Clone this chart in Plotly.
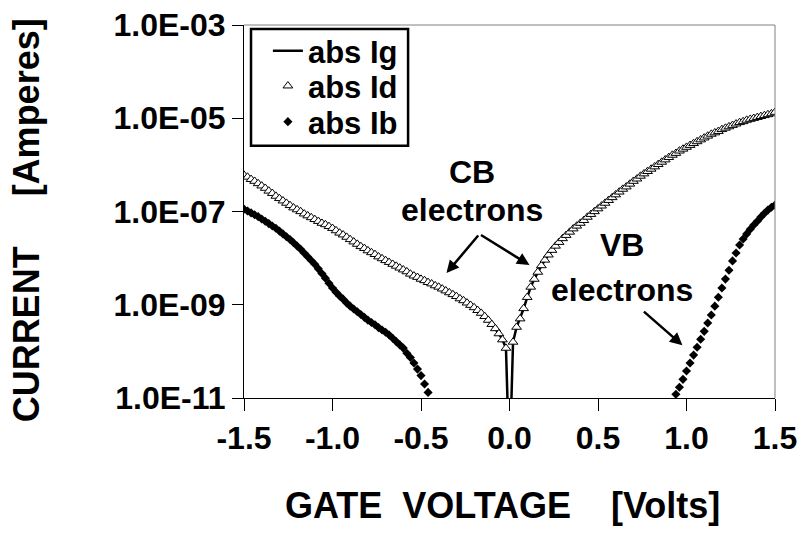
import numpy as np
import plotly.graph_objects as go

# Gate-voltage sweep: -1.5 V to +1.5 V in 20 mV steps
gate_voltage = np.round(np.linspace(-1.5, 1.5, 151), 2)

# |Id| in decades (log10 A), negative branch -1.50 .. -0.02 V
log_id_neg = [
    -6.22, -6.26, -6.31, -6.35, -6.40,
    -6.45, -6.50, -6.56, -6.61, -6.67,
    -6.72, -6.77, -6.82, -6.87, -6.92,
    -6.96, -7.00, -7.05, -7.09, -7.13,
    -7.17, -7.21, -7.25, -7.28, -7.32,
    -7.36, -7.41, -7.46, -7.50, -7.55,
    -7.60, -7.65, -7.70, -7.75, -7.79,
    -7.84, -7.88, -7.92, -7.97, -8.01,
    -8.05, -8.09, -8.13, -8.17, -8.21,
    -8.25, -8.29, -8.34, -8.38, -8.41,
    -8.45, -8.48, -8.52, -8.55, -8.59,
    -8.62, -8.66, -8.70, -8.74, -8.78,
    -8.82, -8.87, -8.91, -8.96, -9.01,
    -9.06, -9.12, -9.18, -9.25, -9.33,
    -9.42, -9.51, -9.62, -9.75, -9.93,
]
# |Id| in decades, positive branch +0.02 .. +1.50 V
log_id_pos = [
    -9.80, -9.48, -9.30, -9.08, -8.84,
    -8.62, -8.45, -8.30, -8.16, -8.04,
    -7.93, -7.83, -7.74, -7.66, -7.58,
    -7.51, -7.44, -7.37, -7.31, -7.25,
    -7.19, -7.12, -7.06, -7.00, -6.94,
    -6.88, -6.82, -6.76, -6.70, -6.64,
    -6.58, -6.52, -6.47, -6.41, -6.35,
    -6.30, -6.24, -6.19, -6.14, -6.09,
    -6.04, -5.99, -5.94, -5.89, -5.84,
    -5.79, -5.75, -5.70, -5.66, -5.62,
    -5.58, -5.54, -5.50, -5.46, -5.42,
    -5.38, -5.34, -5.31, -5.28, -5.24,
    -5.21, -5.18, -5.15, -5.12, -5.09,
    -5.07, -5.04, -5.02, -5.00, -4.98,
    -4.96, -4.94, -4.92, -4.90, -4.87,
]
# Gate current at exactly 0 V (drops far below the axis floor)
log_ig_at_zero = -12.5

# |Ib| in decades: negative branch -1.50 .. -0.46 V, positive branch +0.94 .. +1.50 V
log_ib_neg = [
    -6.95, -6.99, -7.03, -7.07, -7.11,
    -7.16, -7.21, -7.26, -7.31, -7.36,
    -7.42, -7.48, -7.54, -7.60, -7.67,
    -7.74, -7.81, -7.89, -7.97, -8.05,
    -8.13, -8.23, -8.33, -8.43, -8.54,
    -8.64, -8.73, -8.81, -8.88, -8.96,
    -9.03, -9.09, -9.15, -9.21, -9.27,
    -9.33, -9.38, -9.43, -9.49, -9.54,
    -9.59, -9.65, -9.72, -9.79, -9.86,
    -9.93, -10.04, -10.13, -10.25, -10.38,
    -10.52, -10.70, -10.88,
]
log_ib_pos = [
    -10.92, -10.77, -10.60, -10.42, -10.25,
    -10.08, -9.91, -9.74, -9.57, -9.39,
    -9.22, -9.03, -8.84, -8.64, -8.45,
    -8.26, -8.06, -7.89, -7.72, -7.59,
    -7.48, -7.38, -7.29, -7.21, -7.12,
    -7.04, -6.97, -6.91, -6.86,
]

x_tick_vals = [-1.5, -1.0, -0.5, 0.0, 0.5, 1.0, 1.5]
x_tick_text = ["-1.5", "-1.0", "-0.5", "0.0", "0.5", "1.0", "1.5"]
y_tick_vals = [1e-11, 1e-9, 1e-7, 1e-5, 1e-3]
y_tick_text = ["1.0E-11", "1.0E-09", "1.0E-07", "1.0E-05", "1.0E-03"]

nan = float("nan")
abs_ig = 10 ** np.array(log_id_neg + [log_ig_at_zero] + log_id_pos)
abs_id = 10 ** np.array(log_id_neg + [nan] + log_id_pos)
n_gap = len(gate_voltage) - len(log_ib_neg) - len(log_ib_pos)
abs_ib = 10 ** np.array(log_ib_neg + [nan] * n_gap + log_ib_pos)

FONT = "Liberation Sans, Arial, Helvetica, sans-serif"

fig = go.Figure()
fig.add_trace(go.Scatter(
    x=gate_voltage, y=abs_ig, name="abs Ig", mode="lines",
    line=dict(color="black", width=2.5), legend="legend",
))
fig.add_trace(go.Scatter(
    x=gate_voltage, y=abs_id, name="abs Id", mode="markers",
    marker=dict(symbol="triangle-up", size=8.5, color="white",
                line=dict(color="black", width=1)),
    legend="legend2",
))
fig.add_trace(go.Scatter(
    x=gate_voltage, y=abs_ib, name="abs Ib", mode="markers",
    marker=dict(symbol="diamond", size=7, color="black",
                line=dict(color="black", width=0)),
    legend="legend3",
))

legend_common = dict(
    x=0.045, xanchor="left", yanchor="middle",
    bgcolor="rgba(0,0,0,0)", borderwidth=0,
    font=dict(family=FONT, size=31, color="black", weight="bold"),
)
tick_font = dict(family=FONT, size=32, color="black", weight="bold")
title_font = dict(family=FONT, size=36, color="black", weight="bold")
label_font = dict(family=FONT, size=32, color="black", weight="bold")

fig.update_layout(
    width=799, height=538,
    margin=dict(l=244, r=24, t=25, b=140),
    plot_bgcolor="white", paper_bgcolor="white",
    showlegend=True,
    legend=dict(y=0.93, **legend_common),
    legend2=dict(y=0.836, **legend_common),
    legend3=dict(y=0.74, **legend_common),
    xaxis=dict(
        range=[-1.5, 1.5], tickvals=x_tick_vals, ticktext=x_tick_text,
        ticks="outside", ticklen=12, tickwidth=1, tickcolor="black",
        showline=True, linecolor="black", linewidth=1,
        showgrid=False, zeroline=False, tickfont=tick_font,
        automargin=False,
    ),
    yaxis=dict(
        type="log", range=[-11, -3], tickvals=y_tick_vals, ticktext=y_tick_text,
        ticks="outside", ticklen=11, tickwidth=1, tickcolor="black",
        showline=True, linecolor="black", linewidth=1,
        showgrid=False, zeroline=False, tickfont=tick_font,
        automargin=False,
    ),
    shapes=[
        # plot-area frame on the top and right
        dict(type="line", xref="paper", yref="paper", x0=0, x1=1, y0=1, y1=1,
             line=dict(color="#808080", width=1)),
        dict(type="line", xref="paper", yref="paper", x0=1, x1=1, y0=0, y1=1,
             line=dict(color="#808080", width=1)),
        # legend box
        dict(type="rect", xref="paper", yref="paper",
             x0=0.0132, x1=0.309, y0=0.676, y1=0.989,
             line=dict(color="black", width=2.5), fillcolor="rgba(0,0,0,0)"),
    ],
    annotations=[
        dict(text="GATE  VOLTAGE    [Volts]", xref="paper", yref="paper",
             x=0.486, y=-0.287, showarrow=False, font=title_font,
             xanchor="center", yanchor="middle"),
        dict(text="CURRENT     [Amperes]", xref="paper", yref="paper",
             x=-0.41, y=0.477, showarrow=False, font=title_font,
             textangle=-90, xanchor="center", yanchor="middle"),
        dict(text="CB", x=-0.21, y=-6.15, showarrow=False, font=label_font),
        dict(text="electrons", x=-0.21, y=-6.97, showarrow=False, font=label_font),
        dict(text="VB", x=0.635, y=-7.72, showarrow=False, font=label_font),
        dict(text="electrons", x=0.635, y=-8.69, showarrow=False, font=label_font),
        dict(text="", x=-0.356, y=-8.32, ax=33, ay=-39, showarrow=True,
             arrowhead=2, arrowsize=1, arrowwidth=2.5, arrowcolor="black"),
        dict(text="", x=0.113, y=-8.15, ax=-50, ay=-31, showarrow=True,
             arrowhead=2, arrowsize=1, arrowwidth=2.5, arrowcolor="black"),
        dict(text="", x=0.977, y=-9.87, ax=-40, ay=-35, showarrow=True,
             arrowhead=2, arrowsize=1, arrowwidth=2.5, arrowcolor="black"),
    ],
)

fig.write_html("out.html")
